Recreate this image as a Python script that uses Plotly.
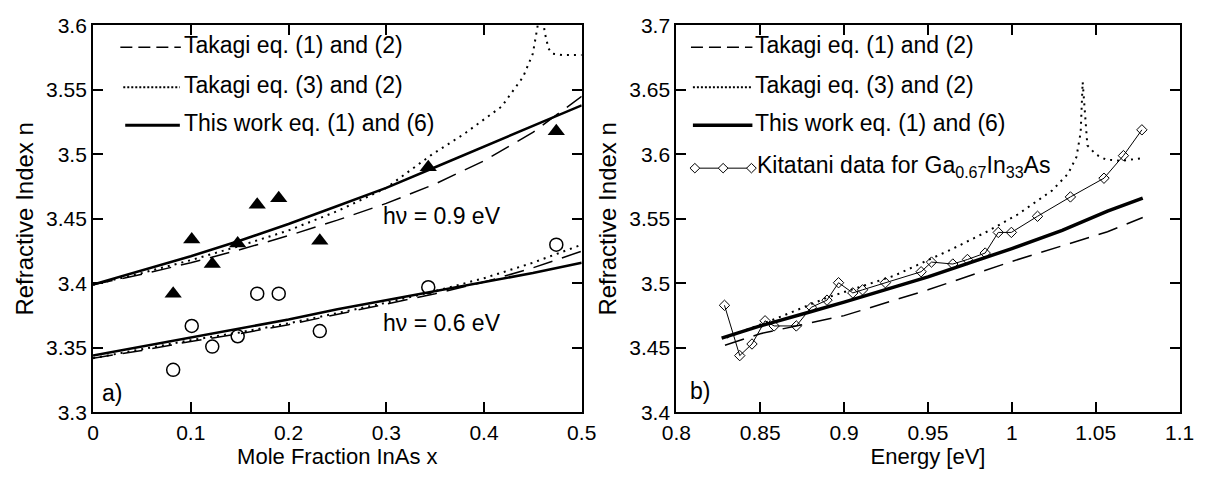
import plotly.graph_objects as go

W, H = 1220, 481
FONT = "Liberation Sans, Arial, sans-serif"

# ---------------- Panel a) : n vs mole fraction InAs ----------------
x_meas = [0.082, 0.101, 0.122, 0.148, 0.168, 0.190, 0.232, 0.343, 0.474]
n09_meas = [3.392, 3.434, 3.415, 3.431, 3.461, 3.466, 3.433, 3.490, 3.518]
n06_meas = [3.333, 3.367, 3.351, 3.359, 3.392, 3.392, 3.363, 3.397, 3.430]

x_line = [0, 0.05, 0.1, 0.15, 0.2, 0.25, 0.3, 0.35, 0.4, 0.45, 0.5]
n09_this = [3.399, 3.410, 3.421, 3.433, 3.446, 3.460, 3.474, 3.490, 3.506, 3.522, 3.538]
n09_tak12 = [3.399, 3.407, 3.416, 3.426, 3.437, 3.449, 3.462, 3.477, 3.495, 3.517, 3.545]
n06_this = [3.344, 3.351, 3.358, 3.365, 3.372, 3.380, 3.387, 3.394, 3.401, 3.408, 3.416]
n06_tak12 = [3.342, 3.348, 3.355, 3.361, 3.368, 3.376, 3.384, 3.392, 3.401, 3.412, 3.425]
n06_tak32 = [3.342, 3.349, 3.356, 3.362, 3.369, 3.377, 3.385, 3.394, 3.404, 3.416, 3.430]

x_tak32_09 = [0, 0.05, 0.1, 0.15, 0.2, 0.25, 0.3, 0.347, 0.38, 0.418, 0.44, 0.45,
              0.455, 0.458, 0.462, 0.466, 0.47, 0.48, 0.5]
n09_tak32 = [3.399, 3.408, 3.418, 3.429, 3.441, 3.456, 3.474, 3.500, 3.516, 3.537, 3.560, 3.578,
             3.600, 3.625, 3.595, 3.582, 3.578, 3.577, 3.577]

# ---------------- Panel b) : n vs energy ----------------
E_kit = [0.8287, 0.8378, 0.8451, 0.8529, 0.8583, 0.8715, 0.8805, 0.8898, 0.8967, 0.9052,
         0.9110, 0.9246, 0.9459, 0.9521, 0.9648, 0.9735, 0.9841, 0.9919, 0.9997, 1.0153,
         1.0349, 1.0549, 1.0665, 1.0775]
n_kit = [3.483, 3.444, 3.453, 3.471, 3.467, 3.467, 3.4815, 3.487, 3.5005, 3.4926,
         3.495, 3.5005, 3.509, 3.5165, 3.515, 3.5185, 3.5235, 3.5395, 3.5395, 3.552,
         3.567, 3.5815, 3.599, 3.619]

E_this = [0.827, 0.85, 0.88, 0.9, 0.95, 1.0, 1.03, 1.057, 1.078]
n_this = [3.4576, 3.467, 3.478, 3.4855, 3.505, 3.527, 3.541, 3.556, 3.566]

E_tak12 = [0.829, 0.85, 0.9, 0.95, 1.0, 1.057, 1.078]
n_tak12 = [3.452, 3.461, 3.475, 3.495, 3.517, 3.540, 3.551]

E_tak32 = [0.83, 0.86, 0.89, 0.93, 0.965, 0.985, 1.003, 1.024, 1.0335, 1.0385, 1.041,
           1.0422, 1.045, 1.05, 1.056, 1.065, 1.078]
n_tak32 = [3.458, 3.473, 3.489, 3.506, 3.527, 3.540, 3.553, 3.572, 3.585, 3.598, 3.617,
           3.656, 3.607, 3.600, 3.596, 3.595, 3.597]

legend_labels = ["Takagi eq. (1) and (2)", "Takagi eq. (3) and (2)", "This work eq. (1) and (6)",
                 "Kitatani data for Ga<sub>0.67</sub>In<sub>33</sub>As"]
x_titles = ["Mole Fraction InAs x", "Energy [eV]"]
y_title = "Refractive Index n"

DASH = "20px,10px"
DOT = "2px,5px"

fig = go.Figure()

def line(x, y, xa, ya, width, dash="solid"):
    fig.add_trace(go.Scatter(x=x, y=y, xaxis=xa, yaxis=ya, mode="lines",
                             line=dict(color="black", width=width, dash=dash),
                             hoverinfo="skip", showlegend=False))

# panel a lines
line(x_line, n09_tak12, "x", "y", 1.5, DASH)
line(x_tak32_09, n09_tak32, "x", "y", 2, DOT)
line(x_line, n09_this, "x", "y", 2.5)
line(x_line, n06_tak12, "x", "y", 1.5, DASH)
line(x_line, n06_tak32, "x", "y", 2, DOT)
line(x_line, n06_this, "x", "y", 2.5)

fig.add_trace(go.Scatter(x=x_meas, y=n09_meas, xaxis="x", yaxis="y", mode="markers",
                         marker=dict(symbol="triangle-up", size=15, color="black"),
                         showlegend=False))
fig.add_trace(go.Scatter(x=x_meas, y=n06_meas, xaxis="x", yaxis="y", mode="markers",
                         marker=dict(symbol="circle-open", size=13, color="black",
                                     line=dict(width=1.5, color="black")),
                         showlegend=False))

# panel b lines
line(E_tak12, n_tak12, "x2", "y2", 1.5, DASH)
line(E_tak32, n_tak32, "x2", "y2", 2, DOT)
line(E_this, n_this, "x2", "y2", 3.5)
fig.add_trace(go.Scatter(x=E_kit, y=n_kit, xaxis="x2", yaxis="y2", mode="lines+markers",
                         line=dict(color="black", width=1),
                         marker=dict(symbol="diamond-open", size=8, color="black",
                                     line=dict(width=1, color="black")),
                         showlegend=False))

def px(x):
    return x / W

def py(y):
    return 1 - y / H

axis_common = dict(showline=True, linecolor="black", linewidth=2, mirror="ticks",
                   ticks="inside", ticklen=10, tickwidth=2, tickcolor="black",
                   showgrid=False, zeroline=False,
                   tickfont=dict(family=FONT, size=21, color="black"))

xt = lambda s: dict(text=s, standoff=6, font=dict(family=FONT, size=22, color="black"))
yt = lambda s: dict(text=s, standoff=6, font=dict(family=FONT, size=24, color="black"))

ydom = [py(420.5), py(14)]
fig.update_layout(
    width=W, height=H, margin=dict(l=0, r=0, t=0, b=0),
    paper_bgcolor="white", plot_bgcolor="white", showlegend=False,
    font=dict(family=FONT, size=23, color="black"),
    xaxis=dict(domain=[px(80), px(581)], range=[0, 0.5], dtick=0.1, anchor="y",
               title=xt(x_titles[0]), **axis_common),
    yaxis=dict(domain=ydom, range=[3.3, 3.6], dtick=0.05, anchor="x",
               title=yt(y_title), **axis_common),
    xaxis2=dict(domain=[px(678), px(1194)], range=[0.8, 1.1], dtick=0.05, anchor="y2",
                title=xt(x_titles[1]), **axis_common),
    yaxis2=dict(domain=ydom, range=[3.4, 3.7], dtick=0.05, anchor="x2",
                title=yt(y_title), **axis_common),
)

ann = []
def text(x, y, s, xanchor="left", angle=0, size=23, yanchor="middle"):
    ann.append(dict(x=px(x), y=py(y), xref="paper", yref="paper", text=s, showarrow=False,
                    xanchor=xanchor, yanchor=yanchor, textangle=angle, borderpad=0,
                    font=dict(family=FONT, size=size, color="black")))

# in-plot labels
text(376, 214, "h\u03bd = 0.9 eV")
text(376, 327, "h\u03bd = 0.6 eV")
text(88, 400, "a)")
text(691, 398, "b)")

shapes = []
def seg(x0, x1, y, width, dash="solid"):
    shapes.append(dict(type="line", xref="paper", yref="paper", x0=px(x0), x1=px(x1),
                       y0=py(y), y1=py(y), line=dict(color="black", width=width, dash=dash)))

rows = [35, 77, 117]
# left legend
seg(108, 170, rows[0] + 2, 1.5, "12px,6px")
seg(111, 169, rows[1] + 2, 2, "2px,2px")
seg(113, 169, rows[2] + 2, 3)
for r, lab in zip(rows, legend_labels[:3]):
    text(172, r, lab)
# right legend
seg(693, 756, rows[0] + 2, 1.5, "12px,6px")
seg(695, 756, rows[1] + 2, 2, "2px,2px")
seg(695, 756, rows[2] + 2, 3.5)
for r, lab in zip(rows, legend_labels[:3]):
    text(758, r, lab)
r4 = 164
seg(697, 755, r4, 1)
for cx in (697, 726, 755):
    d = 5
    path = "M {:.5f},{:.5f} L {:.5f},{:.5f} L {:.5f},{:.5f} L {:.5f},{:.5f} Z".format(
        px(cx - d), py(r4), px(cx), py(r4 - d), px(cx + d), py(r4), px(cx), py(r4 + d))
    shapes.append(dict(type="path", xref="paper", yref="paper", path=path,
                       fillcolor="white", line=dict(color="black", width=1)))
text(760, r4 - 2, legend_labels[3])

fig.update_layout(annotations=ann, shapes=shapes)
fig.write_html("out.html")
